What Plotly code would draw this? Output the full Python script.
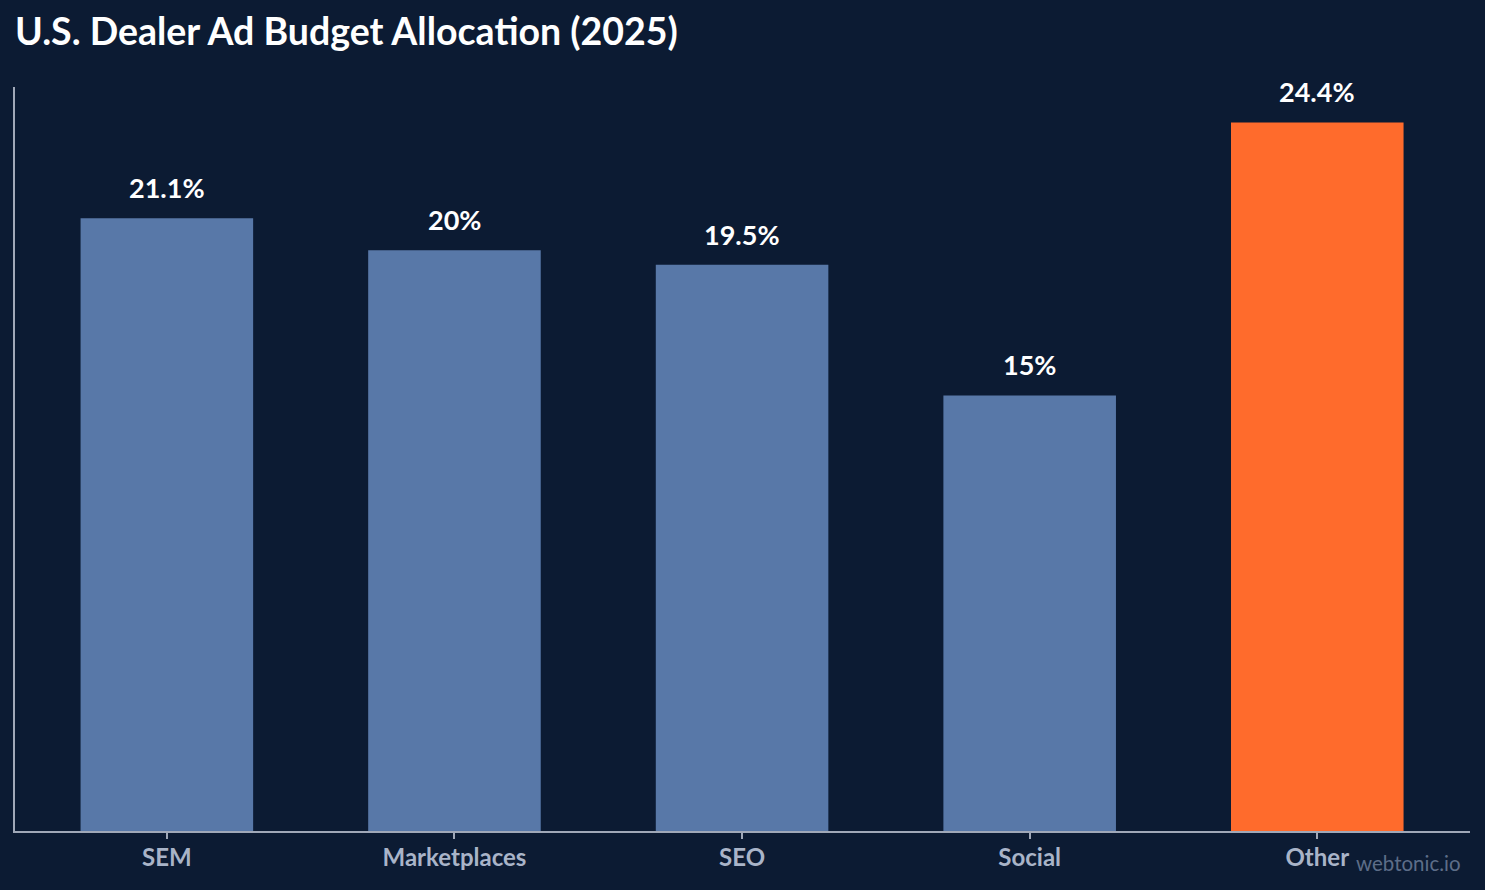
import plotly.graph_objects as go

categories = ["SEM", "Marketplaces", "SEO", "Social", "Other"]
shares = [21.1, 20.0, 19.5, 15.0, 24.4]
labels = ["21.1%", "20%", "19.5%", "15%", "24.4%"]
bar_colors = ["#5878a8", "#5878a8", "#5878a8", "#5878a8", "#ff6b2c"]

BG = "#0c1b33"
FONT = "Lato, 'Open Sans', sans-serif"

fig = go.Figure()
fig.add_trace(go.Bar(
    x=categories, y=shares, marker=dict(color=bar_colors, line=dict(width=0)),
    width=0.6, hoverinfo="x+y",
))
for c, v, t in zip(categories, shares, labels):
    fig.add_annotation(x=c, y=v, text="<b>" + t + "</b>", showarrow=False, yanchor="bottom",
                       yshift=12, font=dict(family=FONT, size=27, color="#ffffff"))

fig.add_annotation(xref="paper", yref="paper", x=1, y=0, xanchor="right", yanchor="top",
                   xshift=-7, yshift=-18, text="webtonic.io", showarrow=False,
                   font=dict(family=FONT, size=20.5, color="#5d6d88"))

fig.update_layout(
    width=1485, height=890,
    paper_bgcolor=BG, plot_bgcolor=BG,
    margin=dict(l=15, r=15, t=87, b=59),
    title=dict(text="<b>U.S. Dealer Ad Budget Allocation (2025)</b>", x=0, xref="paper",
               xanchor="left", y=0.964, yanchor="middle",
               font=dict(family=FONT, size=37.5, color="#ffffff")),
    showlegend=False,
    bargap=0.4,
)
fig.update_xaxes(range=[-0.528, 4.531], showline=True, linecolor="#a0a8b8", linewidth=2,
                 ticks="outside", ticklen=6, tickcolor="#a0a8b8", tickwidth=2,
                 ticklabelstandoff=-2,
                 tickfont=dict(family=FONT, size=24, color="#a9b4c8"), showgrid=False,
                 tickprefix="<b>", ticksuffix="</b>")
fig.update_yaxes(range=[0, 25.62], showline=True, linecolor="#a0a8b8", linewidth=2,
                 showticklabels=False, showgrid=False, zeroline=False, ticks="")

fig.write_html("out.html")
